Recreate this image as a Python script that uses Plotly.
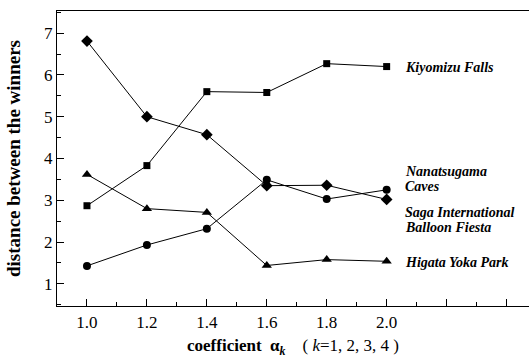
import plotly.graph_objects as go

alpha = [1.0, 1.2, 1.4, 1.6, 1.8, 2.0]

kiyomizu = [2.87, 3.83, 5.60, 5.58, 6.27, 6.20]
nanatsugama = [1.43, 1.93, 2.32, 3.49, 3.03, 3.25]
saga = [6.81, 5.00, 4.57, 3.35, 3.36, 3.02]
higata = [3.62, 2.80, 2.71, 1.44, 1.58, 1.54]

x_tickvals = [1.0, 1.2, 1.4, 1.6, 1.8, 2.0, 2.2, 2.4]
x_ticktext = ["1.0", "1.2", "1.4", "1.6", "1.8", "2.0", " ", " "]
y_tickvals = [1, 2, 3, 4, 5, 6, 7]

labels = [
    ("Kiyomizu Falls", 6.17),
    ("Nanatsugama", 3.69),
    ("Caves", 3.34),
    ("Saga International", 2.71),
    ("Balloon Fiesta", 2.36),
    ("Higata Yoka Park", 1.51),
]

FONT = '"Times New Roman", "Liberation Serif", Times, serif'

fig = go.Figure()
series = [
    (kiyomizu, "square", 7),
    (nanatsugama, "circle", 8),
    (saga, "diamond", 9),
    (higata, "triangle-up", 9),
]
for ys, sym, sz in series:
    fig.add_trace(go.Scatter(
        x=alpha, y=ys, mode="lines+markers",
        line=dict(color="black", width=1),
        marker=dict(symbol=sym, size=sz, color="black"),
        showlegend=False,
    ))

for text, yv in labels:
    fig.add_annotation(
        x=2.055, y=yv, xref="x", yref="y", xanchor="left", yanchor="middle",
        text="<b><i>" + text + "</i></b>", showarrow=False,
        font=dict(family=FONT, size=14, color="black"),
    )

fig.update_layout(
    width=529, height=358,
    margin=dict(l=57, r=0, t=11, b=52, autoexpand=False),
    paper_bgcolor="white", plot_bgcolor="white",
    font=dict(family=FONT, color="black"),
    xaxis=dict(
        range=[0.9, 2.475], tickvals=x_tickvals, ticktext=x_ticktext,
        automargin=False,
        ticks="inside", ticklen=7, tickwidth=1, tickcolor="black",
        minor=dict(dtick=0.1, tick0=0.9, ticks="inside", ticklen=4, tickcolor="black"),
        showline=True, linecolor="black", linewidth=1.3, mirror=True,
        showgrid=False, zeroline=False,
        tickfont=dict(family=FONT, size=17, color="black"),
        title=dict(
            text="<b>coefficient  α<sub><i>k</i></sub></b>    ( <i>k</i>=1, 2, 3, 4 )",
            font=dict(family=FONT, size=17, color="black"),
        ),
    ),
    yaxis=dict(
        range=[0.47, 7.53], tickvals=y_tickvals,
        automargin=False,
        ticks="inside", ticklen=7, tickwidth=1, tickcolor="black",
        minor=dict(dtick=0.5, tick0=0.5, ticks="inside", ticklen=4, tickcolor="black"),
        showline=True, linecolor="black", linewidth=1.3,
        showgrid=False, zeroline=False,
        tickfont=dict(family=FONT, size=17, color="black"),
        title=dict(
            text="<b>distance between the winners</b>",
            font=dict(family=FONT, size=19, color="black"),
            standoff=18,
        ),
    ),
)

fig.write_html(
    "out.html",
    config={"displayModeBar": False},
    post_script="document.body.style.margin='0';document.body.style.overflow='hidden';",
)
